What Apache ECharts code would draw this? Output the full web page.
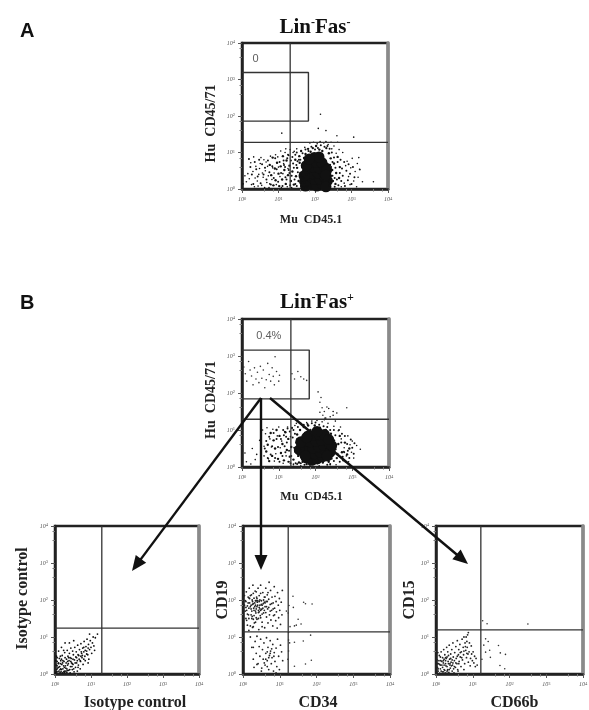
<!DOCTYPE html>
<html><head><meta charset="utf-8">
<script src="https://cdn.jsdelivr.net/npm/echarts@6/dist/echarts.min.js"></script>
<style>html,body{margin:0;background:#fff}#c{width:589px;height:710px;filter:blur(.4px)}</style>
</head><body><div id="c"></div>
<script>
// All scatter values are flat x,y pairs in hundredths of a decade (log10 x 100)
const aCore=[190,12,205,8,220,14,182,28,197,26,213,28,228,30,178,44,193,42,208,44,224,46,180,58,196,60,211,58,226,60,188,72,204,74,219,72,198,86,211,88,172,20,170,36,176,64,232,52,234,22,230,38,184,82,174,8,230,6];
const aDense=[142,12,148,35,151,58,155,22,158,72,160,44,163,8,165,61,167,30,170,85,171,18,172,52,174,96,176,40,157,90,178,8,162,104,181,110,168,3,188,102,194,112,203,118,212,108,220,104,231,112,238,98,243,84,241,66,247,52,244,36,249,22,240,10,252,70,258,44,256,14,262,88,266,30,268,60,146,80,138,48,134,22,130,64,126,38,120,14,122,78,116,52,112,90,110,26,106,62,102,8,100,42,96,72,92,24,90,56,86,10,84,86,80,38,76,66];
const aMore=[150,8,153,46,156,80,149,66,144,26,140,70,136,36,132,10,128,52,124,84,119,32,115,66,111,8,107,44,103,74,99,20,95,54,91,84,87,30,83,62,79,12,75,46,71,78,67,26,63,58,59,40,55,68,51,16,47,80,43,34,39,54,35,74,31,14,27,40,23,60,19,82,150,100,146,94,142,58,138,88,134,78,130,44,126,94,122,26,118,60,114,78,240,20,244,60,248,36,252,86,254,6,256,58,260,26,262,74,264,10,268,44,270,80,272,22,274,56,276,36,280,74,282,8,286,50,290,24,292,68,296,42,300,14,304,60,308,32,246,100,240,110,234,118,226,116,216,120,208,112,200,108,190,116,182,104,174,108,166,98,160,80,168,72,164,36,160,18,146,14,152,76,248,74,254,30];
const aSparse=[20,28,26,12,30,48,34,6,38,62,42,22,46,40,50,70,54,10,58,32,60,80,64,50,68,18,70,62,74,4,78,90,82,26,88,44,94,12,98,88,104,34,108,4,114,70,118,100,124,6,128,92,132,108,136,4,140,100,12,20,16,42,24,72,32,88,36,30,44,8,48,56,52,86,56,44,62,4,66,74,72,36,76,14,84,58,92,94,100,60,106,104,112,42,120,110,126,56,288,76,292,34,296,12,298,58,302,84,306,22,310,48,314,6,316,70,318,32,322,54,276,100,280,16,284,64,272,6,266,108,258,98,252,118,246,110,236,122,224,126,214,130,206,124,196,128,186,126,172,114,230,130,244,128,262,128,150,110,143,103,3,14,8,36,320,86,323,53,330,20,360,20,306,142,230,160,209,166,109,153,215,205,260,146];
const bCore=[175,25,190,18,205,22,220,28,168,40,183,38,198,36,213,40,228,44,162,55,178,54,193,52,208,55,223,58,238,60,170,70,186,68,201,70,216,72,232,74,180,84,196,86,211,86,224,88,204,96,156,46,160,68,240,40,244,58,172,30,232,30,236,74,176,80];
const bDense=[140,20,145,42,148,66,150,88,153,30,155,12,158,100,162,78,165,14,168,108,172,92,176,8,180,112,186,100,192,8,198,112,205,10,212,106,220,12,228,100,236,14,242,90,246,32,250,72,254,48,258,24,262,62,266,84,272,40,276,18,280,66,286,34,292,50,134,54,130,28,126,76,122,46,118,94,114,18,110,62,106,38,102,84,98,22,94,100,90,50,86,72,82,30,78,92,74,16,70,60,66,42];
const bMore=[146,10,142,52,138,80,134,30,130,96,126,14,122,66,118,40,114,86,110,30,106,76,102,14,98,54,94,76,90,24,86,92,82,56,78,34,74,82,70,24,66,70,62,50,250,16,254,86,256,60,260,36,264,100,266,14,270,66,272,90,274,28,278,40,280,84,282,14,286,62,288,44,292,24,296,74,300,52,304,36,306,64,150,8,152,108,160,10,168,114,178,116,170,6,190,118,200,120,210,114,222,110,232,108,240,100,250,100,244,22,240,8,232,6,158,48,150,76,144,90,140,100,136,106,132,10,128,44,124,104,120,82,116,56,112,100];
const bSparse=[64,90,68,106,72,22,76,76,80,54,84,102,88,16,92,36,96,84,100,108,104,52,108,70,60,56,60,30,56,100,112,10,116,96,120,30,124,108,128,14,132,82,136,104,140,8,144,112,52,40,48,72,40,34,36,20,28,50,12,14,8,38,24,8,148,118,160,118,176,120,190,124,204,126,218,122,234,118,250,110,262,98,270,76,278,52,284,30,290,14,294,60,288,84,298,40,304,24,300,70,240,6,256,6,210,3,185,3,160,3,140,6,277,42,312,58,322,48,268,108,254,124,226,132,240,136,248,140,258,146,212,148,236,158,248,150,224,128];
const bGate=[5,270,9,252,13,232,18,285,22,262,26,246,30,222,34,268,38,238,42,256,46,228,50,272,54,240,58,262,62,214,66,236,70,280,74,250,78,232,82,268,85,245,88,222,90,298,94,258,100,232,102,248,136,252,143,238,152,258,160,244,168,238,176,234];
const bOut=[207,203,215,188,212,175,218,160,224,150,220,140,228,132,231,162,285,160];
const iso=[2,3,5,12,3,24,8,6,6,34,10,18,12,42,14,4,15,28,18,12,20,50,21,3,22,36,24,22,26,8,27,58,28,44,30,16,31,30,33,5,34,64,35,24,36,48,38,10,39,36,40,56,42,3,43,20,44,70,45,42,46,30,48,12,49,62,50,26,51,52,53,6,54,38,55,72,57,18,58,46,59,60,60,30,62,8,63,78,64,52,65,24,67,40,68,66,70,14,71,34,72,82,74,56,75,44,77,70,78,26,80,60,81,88,83,48,84,36,86,74,88,62,89,94,91,52,93,80,94,40,96,66,98,90,100,72,102,56,104,84,106,100,108,76,24,64,15,48,4,48,10,62,18,72,28,84,112,98,110,64,92,30,118,108,96,108,40,84,52,90];
const isoMore=[4,6,7,16,9,28,11,8,13,20,16,36,17,6,19,26,22,14,25,34,27,4,29,22,32,40,33,14,37,28,41,12,44,34,47,20,50,40,52,14,56,30,60,44,64,18,66,50,70,36,73,60,76,50,80,40,84,64,88,54,92,70,16,14,21,30,26,18,34,10,38,44,6,22,10,30,14,12,18,40,24,6,30,8,35,34,42,44,48,28,62,36,72,48,80,72,6,44,2,36];
const midUp=[6,170,8,196,9,222,10,145,12,184,14,208,15,160,17,232,18,192,20,130,22,176,23,214,25,156,26,196,27,240,29,178,30,205,31,138,33,224,34,186,35,165,37,208,38,148,39,194,41,232,42,172,43,120,44,212,46,186,47,158,48,240,50,198,51,175,52,140,54,220,55,190,56,165,58,208,59,125,60,182,62,232,63,196,64,154,66,214,67,176,68,138,70,202,71,248,72,160,74,188,75,226,76,146,78,172,79,208,81,130,82,192,83,158,85,236,86,178,87,210,89,144,90,196,91,168,93,124,94,220,96,186,97,152,99,204,100,172,102,134,104,194,106,160,107,226,20,182,26,188,32,192,38,182,44,196,22,160,34,170,40,198,46,176,28,148,52,186,58,194,16,206,36,222,48,218,8,150,12,132,4,186,4,212,60,208,68,220];
const midUpMore=[10,172,14,192,16,178,18,204,22,186,24,170,25,200,28,190,30,172,32,182,34,198,36,176,38,204,40,186,42,166,44,180,46,200,48,172,50,188,52,162,54,178,56,200,58,172,60,192,62,166,64,182,66,196,30,158,36,152,42,150,48,152,24,150,16,150,20,212,28,218,36,198,44,168,12,162,6,198,8,180,70,180,74,170,78,190,82,176,86,160,34,140,52,128,28,128,16,118,26,126];
const midLow=[20,100,24,72,28,40,30,18,33,88,36,56,38,102,41,28,44,74,46,48,48,94,51,16,53,66,55,40,57,84,60,24,62,56,64,98,66,36,68,72,70,12,72,50,74,90,75,62,77,28,79,44,81,80,83,8,85,58,87,34,90,70,92,20,94,94,97,48,99,12,102,78,105,60,108,36,74,56,70,44,66,60,78,68,62,40,84,48,58,30,66,20,50,8,38,26,28,72,90,3];
const midOut=[136,210,165,194,170,190,188,189,125,185,118,170,123,165,137,180,150,148,140,130,145,132,158,135,128,128,184,105,164,89,140,86,127,84,186,37,170,27,140,21,124,112,124,92,124,62,122,40];
const cd15=[2,4,4,18,3,38,6,8,7,28,9,50,10,2,12,14,13,36,14,60,16,24,17,6,18,44,20,30,21,66,22,12,24,52,25,3,26,36,27,22,29,72,30,46,31,10,32,60,34,28,35,4,36,78,37,40,39,16,40,54,41,32,43,66,44,8,45,24,46,84,47,46,49,3,50,36,51,58,53,18,54,74,55,42,57,28,58,90,59,12,61,52,62,66,63,34,65,80,66,46,68,20,69,60,71,94,72,38,74,72,75,52,76,12,78,28,79,84,81,64,82,100,83,44,85,72,86,106,87,54,88,32,90,60,91,84,93,22,94,42,96,76,97,54,99,36,101,60,103,30,105,48,107,20,109,42,112,24,84,88,76,100,88,112,60,8,48,14,38,24,22,40,12,46,5,58];
const cd15More=[6,14,10,26,14,8,18,18,20,36,24,10,26,28,28,42,30,20,33,34,36,12,38,28,40,42,42,22,44,38,16,34,22,24,26,44,32,12,34,50,46,30,50,20,54,30,58,48,62,28,70,44,76,62,80,74,84,56,66,58,8,36,12,24,4,28,30,6,20,6];
const cd15Out=[127,144,139,136,250,135,135,95,142,88,170,77,175,57,189,53,174,23,187,14,146,64,135,59,148,45,130,78,125,40];
const gatesA={v:132,h:128,rx:182,ry0:186,ry1:319};
const gatesB={v:133,h:129,rx:183,ry0:184,ry1:316};
const gatesIso={v:130,h:124};
const gatesCd19={v:123,h:114};
const gatesCd15={v:122,h:119};
const tickLabels=['0','1','2','3','4'];
const arrows=[[261,398,132,571],[261,398,261,570],[270,398,468,564]];

const ff='"Liberation Serif",serif';
const P=a=>{const r=[];for(let i=0;i<a.length;i+=2)r.push([10**(a[i]/100),10**(a[i+1]/100)]);return r};
const grids=[
 {left:242,top:43,width:146,height:146,xn:'Mu  CD45.1',yn:'Hu  CD45/71',xs:12,ys:14,xg:25,yg:24,xp:[0,8,0,0],yp:[0,15,0,0]},
 {left:242,top:319,width:147,height:148,xn:'Mu  CD45.1',yn:'Hu  CD45/71',xs:12,ys:14,xg:24,yg:24,xp:[0,8,0,0],yp:[0,14,0,0]},
 {left:55,top:526,width:144,height:148,xn:'Isotype control',yn:'Isotype control',xs:16,ys:16,xg:21,yg:24,xp:[0,0,0,16],yp:[0,0,0,3]},
 {left:243,top:526,width:147,height:148,xn:'CD34',yn:'CD19',xs:16,ys:16,xg:21,yg:12,xp:[0,0,0,3],yp:0},
 {left:436,top:526,width:147,height:148,xn:'CD66b',yn:'CD15',xs:16,ys:16,xg:21,yg:18,xp:[0,0,0,10],yp:0}
];
const fmt=v=>{const e=Math.round(Math.log10(v));return tickLabels.includes(String(e))?`{b|10}{s|${e}}`:''};
const rich={b:{fontSize:6,fontFamily:ff,fontStyle:'italic',color:'#555'},s:{fontSize:4.5,fontFamily:ff,color:'#555',verticalAlign:'top',padding:[0,0,2,0]}};
const xAxis=[],yAxis=[],series=[];
const axisCommon=(m)=>({min:1,max:10000,logBase:10,
  axisLine:{show:true,lineStyle:{color:'#222',width:2.5}},axisTick:{length:4,lineStyle:{color:'#555',width:1}},
  minorTick:{show:true,splitNumber:3,length:2.5,lineStyle:{color:'#777'}},
  axisLabel:{formatter:fmt,rich,margin:m},splitLine:{show:false},minorSplitLine:{show:false}});
grids.forEach((g,i)=>{
 xAxis.push({type:'log',gridIndex:i,...axisCommon(7),name:g.xn,nameLocation:'middle',nameGap:g.xg,
  nameTextStyle:{fontFamily:ff,fontWeight:'bold',fontSize:g.xs,color:'#222',padding:g.xp}});
 yAxis.push({type:'log',gridIndex:i,...axisCommon(7),name:g.yn,nameLocation:'middle',nameGap:g.yg,nameMoveOverlap:false,
  nameTextStyle:{fontFamily:ff,fontWeight:'bold',fontSize:g.ys,color:'#222',padding:g.yp}});
 yAxis.push({type:'log',gridIndex:i,position:'right',min:1,max:10000,logBase:10,axisLine:{show:true,lineStyle:{color:'#8a8a8a',width:3.5}},
  axisTick:{show:false},axisLabel:{show:false},splitLine:{show:false}});
});
const gridOut=grids.map(g=>({left:g.left,top:g.top,width:g.width,height:g.height,outerBoundsMode:'none',containLabel:false,show:true,borderColor:'#222',borderWidth:2.5,backgroundColor:'#fff'}));
const yIdx=i=>i*2;
function dots(i,a,size,color='#111'){series.push({type:'scatter',clip:true,xAxisIndex:i,yAxisIndex:yIdx(i),data:P(a),symbolSize:size,silent:true,animation:false,itemStyle:{color,opacity:1}})}
function seg(i,pts,w=1.3){series.push({type:'line',xAxisIndex:i,yAxisIndex:yIdx(i),data:P(pts),showSymbol:false,silent:true,animation:false,lineStyle:{color:'#333',width:w}})}
function gates(i,g){seg(i,[g.v,0,g.v,400]);seg(i,[0,g.h,400,g.h]);if(g.rx)seg(i,[0,g.ry0,g.rx,g.ry0,g.rx,g.ry1,0,g.ry1],1.4)}
gates(0,gatesA);dots(0,aCore,11);dots(0,aDense,2.4);dots(0,aMore,2);dots(0,aSparse,1.6);
gates(1,gatesB);dots(1,bCore,11);dots(1,bDense,2.4);dots(1,bMore,2);dots(1,bSparse,1.6);dots(1,bGate,1.6,'#333');dots(1,bOut,1.6,'#333');
gates(2,gatesIso);dots(2,iso,1.8);dots(2,isoMore,1.8);
gates(3,gatesCd19);dots(3,midUp,1.8,'#222');dots(3,midUpMore,1.8,'#222');dots(3,midLow,1.8,'#222');dots(3,midOut,1.6,'#333');
gates(4,gatesCd15);dots(4,cd15,1.8,'#222');dots(4,cd15More,1.8,'#222');dots(4,cd15Out,1.6,'#333');
function note(i,x,y,t){series.push({type:'scatter',xAxisIndex:i,yAxisIndex:yIdx(i),data:[[10**x,10**y]],symbolSize:0,silent:true,animation:false,
 label:{show:true,position:'inside',formatter:t,fontFamily:'"Liberation Sans",sans-serif',fontSize:11,color:'#333'}})}
note(0,.37,3.55,'0');note(1,.73,3.55,'0.4%');
const tr={a:{fontFamily:ff,fontWeight:'bold',fontSize:21,color:'#111'},s:{fontFamily:ff,fontWeight:'bold',fontSize:12,color:'#111',verticalAlign:'top',padding:[0,0,7,0]}};
const title=[
 {text:'{a|Lin}{s|-}{a|Fas}{s|-}',left:310,top:12,textAlign:'center',textStyle:{rich:tr}},
 {text:'{a|Lin}{s|-}{a|Fas}{s|+}',left:312,top:287,textAlign:'center',textStyle:{rich:tr}},
 {text:'A',left:15,top:16,textStyle:{fontFamily:'"Liberation Sans",sans-serif',fontWeight:'bold',fontSize:20,color:'#111'}},
 {text:'B',left:15,top:288,textStyle:{fontFamily:'"Liberation Sans",sans-serif',fontWeight:'bold',fontSize:20,color:'#111'}}
];
const graphic=[];
arrows.forEach(([a,b,c,d])=>{
 const L=Math.hypot(c-a,d-b),ux=(c-a)/L,uy=(d-b)/L,h=15,w=6.5;
 graphic.push({type:'line',z:50,shape:{x1:a,y1:b,x2:c-ux*h*.8,y2:d-uy*h*.8},style:{stroke:'#111',lineWidth:2.4}});
 graphic.push({type:'polygon',z:50,shape:{points:[[c,d],[c-ux*h-uy*w,d-uy*h+ux*w],[c-ux*h+uy*w,d-uy*h-ux*w]]},style:{fill:'#111'}});
});
echarts.init(document.getElementById('c'),null,{renderer:'canvas'}).setOption({backgroundColor:'#fff',animation:false,title,grid:gridOut,xAxis,yAxis,series,graphic});
</script></body></html>
